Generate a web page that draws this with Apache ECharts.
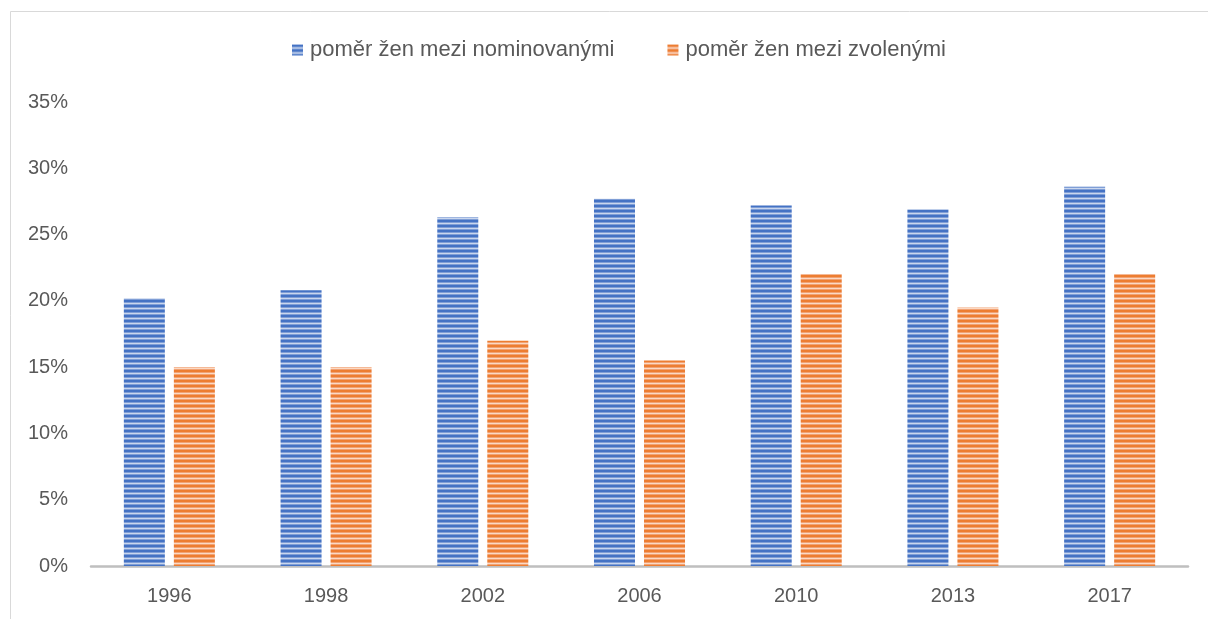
<!DOCTYPE html>
<html>
<head>
<meta charset="utf-8">
<script src="https://cdn.jsdelivr.net/npm/echarts@6/dist/echarts.min.js"></script>
<style>
html,body{margin:0;padding:0;background:#fff;}
#chart{width:1208px;height:619px;}
</style>
</head>
<body>
<div id="chart"></div>
<script>
const years = ['1996','1998','2002','2006','2010','2013','2017'];
const nominated = [0.202, 0.208, 0.263, 0.277, 0.272, 0.269, 0.286];
const elected = [0.150, 0.150, 0.170, 0.155, 0.220, 0.195, 0.220];
const seriesNames = ['poměr žen mezi nominovanými', 'poměr žen mezi zvolenými'];

function stripes(dark, mid, light) {
  const c = document.createElement('canvas');
  c.width = 4; c.height = 5;
  const g = c.getContext('2d');
  const rows = [dark, dark, mid, light, mid];
  rows.forEach((col, i) => { g.fillStyle = col; g.fillRect(0, i, 4, 1); });
  return { image: c, repeat: 'repeat' };
}
const bluePat = stripes('#4472c4', '#7f9ed6', '#c9d6ee');
const orangePat = stripes('#ed7d31', '#f2a273', '#fbd9c4');

const font = 'Liberation Sans, Arial, sans-serif';
const chart = echarts.init(document.getElementById('chart'), null, {renderer: 'canvas'});
chart.setOption({
  animation: false,
  backgroundColor: '#fff',
  graphic: [{
    type: 'rect', shape: {x: 10.5, y: 11.5, width: 1300, height: 800},
    style: {fill: 'none', stroke: '#d9d9d9', lineWidth: 1}, silent: true, z: -1
  }],
  legend: {
    top: 34, left: 287, itemGap: 53,
    itemWidth: 11, itemHeight: 11, icon: 'rect',
    textStyle: {color: '#595959', fontSize: 22, fontFamily: font, padding: [0, 0, 0, 2]},
    data: seriesNames
  },
  grid: {left: 91, right: 20, top: 102, bottom: 53},
  xAxis: {
    type: 'category', data: years,
    axisLine: {lineStyle: {color: '#bfbfbf', width: 2.5}},
    axisTick: {show: false},
    axisLabel: {color: '#595959', fontSize: 20, fontFamily: font, margin: 20}
  },
  yAxis: {
    type: 'value', min: 0, max: 0.35, interval: 0.05,
    axisLine: {show: false}, axisTick: {show: false},
    splitLine: {show: false},
    axisLabel: {color: '#595959', fontSize: 20, fontFamily: font, margin: 23,
      formatter: v => Math.round(v * 100) + '%'}
  },
  series: [
    {name: seriesNames[0], type: 'bar', data: nominated, barWidth: 41, barGap: '22%',
     itemStyle: {color: bluePat}},
    {name: seriesNames[1], type: 'bar', data: elected, barWidth: 41, barGap: '22%',
     itemStyle: {color: orangePat}}
  ]
});
</script>
</body>
</html>
